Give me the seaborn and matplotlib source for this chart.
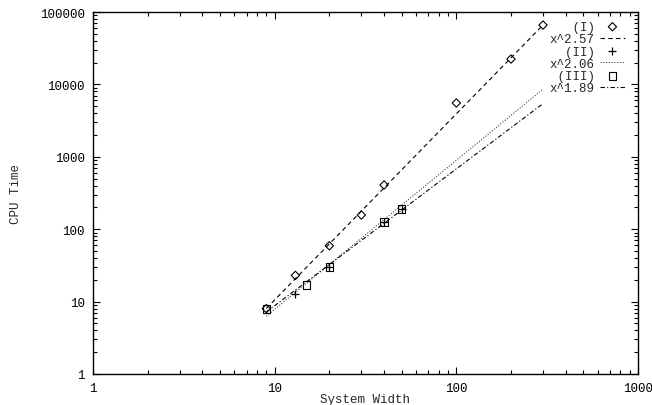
import numpy as np
import matplotlib
matplotlib.use("Agg")
import matplotlib.pyplot as plt
import seaborn as sns
from matplotlib.ticker import LogLocator, FixedLocator, FuncFormatter

x_I = [9, 13, 20, 30, 40, 100, 200, 300]
y_I = [8.0, 23, 59, 157, 408, 5540, 22400, 66000]
x_II = [13, 20, 40, 50]
y_II = [12.7, 30, 125, 188]
x_III = [9, 15, 20, 40, 50]
y_III = [7.9, 17, 30, 125, 190]

# fitted power laws, end points of each straight line
fit_x = [9, 300]
fit_I = [8.05, 66000]     # x^2.57
fit_II = [6.3, 8590]      # x^2.06
fit_III = [7.2, 5420]     # x^1.89

labels = ["   (I)", "x^2.57", "  (II)", "x^2.06", " (III)", "x^1.89"]
x_ticks = [1, 10, 100, 1000]
y_ticks = [1, 10, 100, 1000, 10000, 100000]

sns.set_style("ticks")
plt.rcParams['font.family'] = ['Liberation Mono', 'DejaVu Sans Mono']
plt.rcParams['font.size'] = 9

fig = plt.figure(figsize=(6.52, 4.06), dpi=100)
ax = fig.add_axes([93 / 652, 31 / 406, 545 / 652, 362 / 406])

# (I)
sns.scatterplot(x=x_I, y=y_I, marker='D', s=18, facecolor='none', edgecolor='black',
                linewidth=0.8, label=labels[0], ax=ax, zorder=3)
sns.lineplot(x=fit_x, y=fit_I, color='black', linewidth=0.8, linestyle=(0, (4, 3)),
             label=labels[1], ax=ax)
# (II)
sns.scatterplot(x=x_II, y=y_II, marker='+', s=40, color='black',
                linewidth=0.9, label=labels[2], ax=ax, zorder=3)
sns.lineplot(x=fit_x, y=fit_II, color='#444444', linewidth=0.8, linestyle=(0, (1, 1.5)),
             label=labels[3], ax=ax)
# (III)
sns.scatterplot(x=x_III, y=y_III, marker='s', s=30, facecolor='none', edgecolor='black',
                linewidth=0.8, label=labels[4], ax=ax, zorder=3)
sns.lineplot(x=fit_x, y=fit_III, color='black', linewidth=0.8,
             linestyle=(0, (4, 2, 1, 2)), label=labels[5], ax=ax)

ax.set_xscale('log')
ax.set_yscale('log')
ax.set_xlim(1, 1000)
ax.set_ylim(1, 100000)
ax.xaxis.set_major_locator(FixedLocator(x_ticks))
ax.yaxis.set_major_locator(FixedLocator(y_ticks))
ax.xaxis.set_minor_locator(LogLocator(base=10, subs=np.arange(2, 10)))
ax.yaxis.set_minor_locator(LogLocator(base=10, subs=np.arange(2, 10)))
fmt = FuncFormatter(lambda v, p: '{:.0f}'.format(v))
ax.xaxis.set_major_formatter(fmt)
ax.yaxis.set_major_formatter(fmt)
ax.xaxis.set_minor_formatter(FuncFormatter(lambda v, p: ''))
ax.yaxis.set_minor_formatter(FuncFormatter(lambda v, p: ''))
ax.tick_params(which='both', direction='in', top=True, right=True,
               color='black', width=0.8, labelsize=9, labelcolor='black')
ax.tick_params(which='major', length=5, pad=6)
ax.tick_params(which='minor', length=3)
for sp in ax.spines.values():
    sp.set_visible(True)
    sp.set_linewidth(1.0)
    sp.set_color('black')

ax.set_xlabel('System Width', fontsize=9, labelpad=-1)
ax.set_ylabel('CPU Time', fontsize=9, labelpad=13)

handles, labs = ax.get_legend_handles_labels()
leg = ax.legend(handles, labs, loc='upper right', bbox_to_anchor=(0.976, 0.975),
                frameon=False, markerfirst=False, fontsize=9, handlelength=2.0,
                handletextpad=0.4, labelspacing=0.02, borderpad=0, borderaxespad=0,
                scatterpoints=1)

fig.savefig('out.png', dpi=100)
